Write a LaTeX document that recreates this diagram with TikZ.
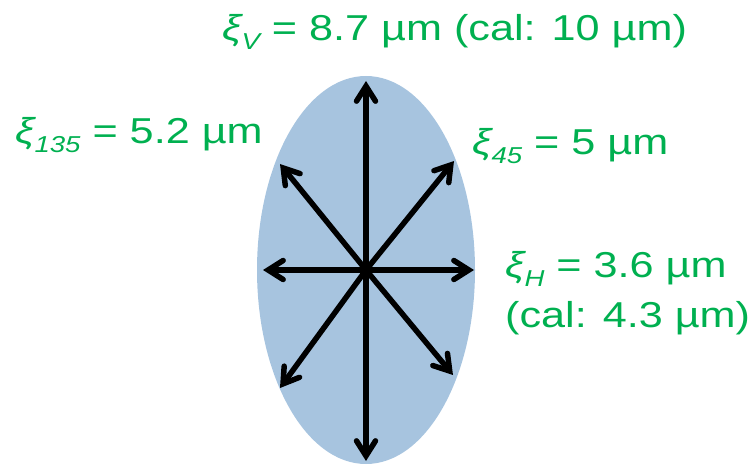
\documentclass[tikz,border=0pt]{standalone}
\usepackage{fontspec}
\setmainfont{Liberation Sans}
\usepackage{graphicx}
\usetikzlibrary{arrows.meta}
\definecolor{cohgreen}{RGB}{0,176,80}
\definecolor{beamblue}{RGB}{167,196,223}
\newcommand\xilabel[1]{{\itshape ξ}\raisebox{-0.25em}{\fontsize{23}{23}\selectfont\itshape #1}}
\newcommand\stretched[1]{\scalebox{1.2}[1]{#1}}

\begin{document}
\begin{tikzpicture}[x=1pt, y=-1pt,
  spoke/.style={line width=5.5pt, line cap=round, line join=round, -{Straight Barb[length=15pt,width=19pt,line cap=round]}},
  value/.style={text=cohgreen, font=\fontsize{36}{50}\selectfont, inner sep=0pt, anchor=base west}
  ]
  \useasboundingbox (0,0) rectangle (755,465);

  % ========== beam spot ==========
  \fill[beamblue] (366,270) ellipse [x radius=109, y radius=194];

  \coordinate (O) at (366,270);
  \coordinate (V1) at (366,81);
  \coordinate (V2) at (366,461);
  \coordinate (H1) at (263,270);
  \coordinate (H2) at (474,270);
  \coordinate (D45a) at (454,161);
  \coordinate (D45b) at (280,388);
  \coordinate (D135a) at (280,164);
  \coordinate (D135b) at (453,375);
  \foreach \tip in {V1,V2,H1,H2,D45a,D45b,D135a,D135b}
    \draw[spoke] (O) -- (\tip);

  % ========== coherence lengths ==========
  \node[value] (xiV) at (222,41) {\stretched{\xilabel{V} = 8.7 µm (cal: 10 µm)}};
  \node[value] (xi135) at (15,144) {\stretched{\xilabel{135} = 5.2 µm}};
  \node[value] (xi45) at (472,155) {\stretched{\xilabel{45} = 5 µm}};
  \node[value, align=left] (xiH) at (505,327) {\stretched{\xilabel{H} = 3.6 µm}\\\stretched{(cal: 4.3 µm)}};
\end{tikzpicture}
\end{document}
